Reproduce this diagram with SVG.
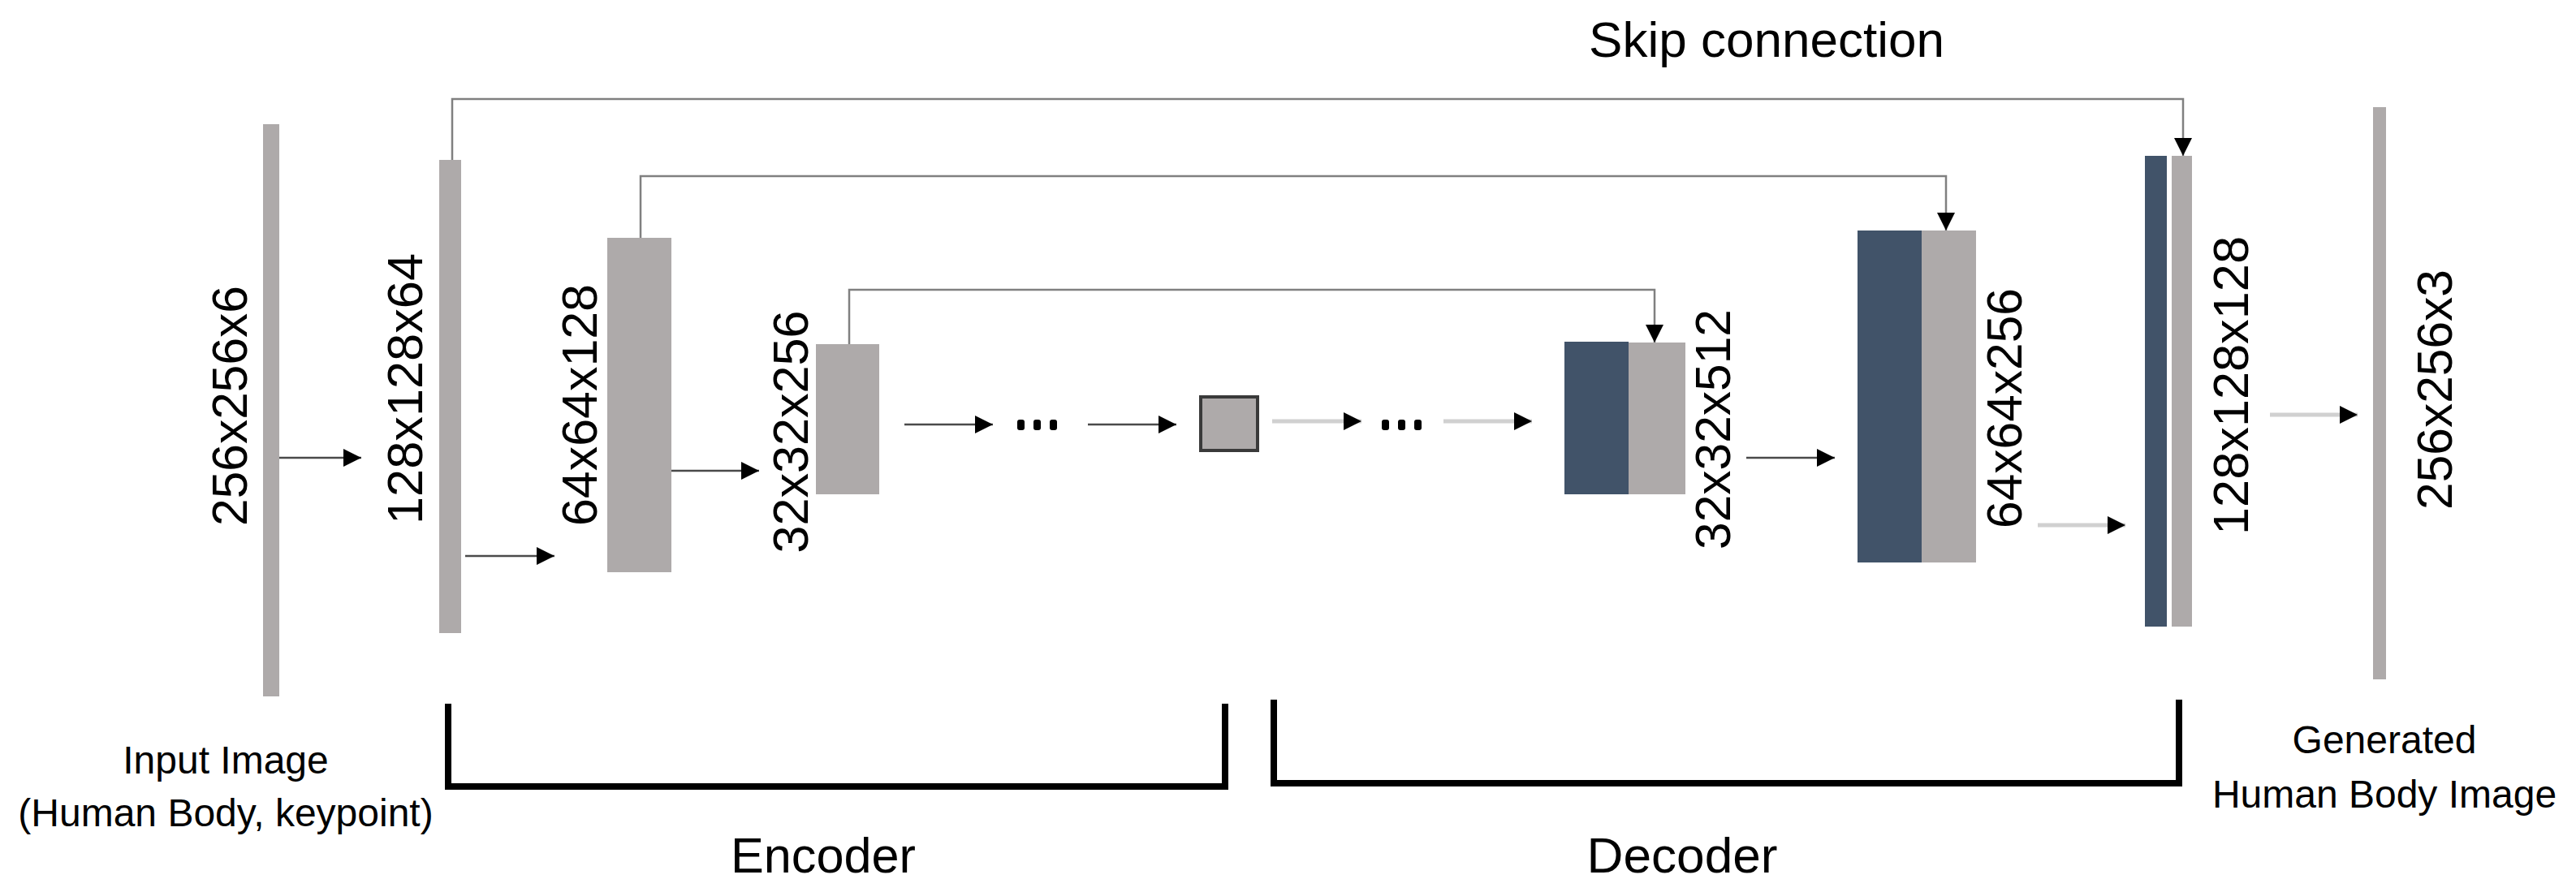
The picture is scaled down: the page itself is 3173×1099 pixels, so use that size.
<svg xmlns="http://www.w3.org/2000/svg" width="3173" height="1099" viewBox="0 0 3173 1099">
<style>
.g{fill:#AEAAAA}
.d{fill:#415369}
.lbl{font-family:"Liberation Sans",Arial,sans-serif;font-size:61px;fill:#000}
.cap{font-family:"Liberation Sans",Arial,sans-serif;font-size:62px;fill:#000;text-anchor:middle}
.sm{font-family:"Liberation Sans",Arial,sans-serif;font-size:48px;fill:#000;text-anchor:middle}
.skip{fill:none;stroke:#808080;stroke-width:2.5}
.fd{fill:none;stroke:#4a4a4a;stroke-width:2.5}
.fl{fill:none;stroke:#d0d0d0;stroke-width:5}
.br{fill:none;stroke:#000;stroke-width:8}
.dot{fill:#000}
</style>
<defs>
<marker id="ah" markerUnits="userSpaceOnUse" markerWidth="22" markerHeight="22" refX="22" refY="11" orient="auto">
<path d="M0,0 L22,11 L0,22 z" fill="#000"/>
</marker>
</defs>
<rect width="3173" height="1099" fill="#fff"/>

<g id="connectors">
<path class="skip" d="M557,197 V122 H2689 V192" marker-end="url(#ah)"/>
<path class="skip" d="M789,293 V217 H2397 V284" marker-end="url(#ah)"/>
<path class="skip" d="M1046,424 V357 H2038 V422" marker-end="url(#ah)"/>
<path class="fd" d="M335,564 H445" marker-end="url(#ah)"/>
<path class="fd" d="M573,685 H683" marker-end="url(#ah)"/>
<path class="fd" d="M827,580 H935" marker-end="url(#ah)"/>
<path class="fd" d="M1114,523 H1223" marker-end="url(#ah)"/>
<path class="fd" d="M1340,523 H1449" marker-end="url(#ah)"/>
<path class="fl" d="M1567,519 H1677" marker-end="url(#ah)"/>
<path class="fl" d="M1778,519 H1887" marker-end="url(#ah)"/>
<path class="fd" d="M2151,564 H2260" marker-end="url(#ah)"/>
<path class="fl" d="M2510,647 H2618" marker-end="url(#ah)"/>
<path class="fl" d="M2796,511 H2904" marker-end="url(#ah)"/>
<rect class="dot" x="1253" y="517" width="9" height="13" rx="3"/>
<rect class="dot" x="1273" y="517" width="9" height="13" rx="3"/>
<rect class="dot" x="1293" y="517" width="9" height="13" rx="3"/>
<rect class="dot" x="1702" y="517" width="9" height="13" rx="3"/>
<rect class="dot" x="1722" y="517" width="9" height="13" rx="3"/>
<rect class="dot" x="1742" y="517" width="9" height="13" rx="3"/>
</g>

<g id="input">
<rect class="g" x="324" y="153" width="20" height="705"/>
<text class="lbl" text-anchor="middle" textLength="296" lengthAdjust="spacingAndGlyphs" transform="translate(304,500) rotate(-90)">256x256x6</text>
<text class="sm" x="278" y="953">Input Image</text>
<text class="sm" x="278" y="1018">(Human Body, keypoint)</text>
</g>

<g id="enc1">
<rect class="g" x="541" y="197" width="27" height="583"/>
<text class="lbl" text-anchor="middle" textLength="334" lengthAdjust="spacingAndGlyphs" transform="translate(520,479) rotate(-90)">128x128x64</text>
</g>

<g id="enc2">
<rect class="g" x="748" y="293" width="79" height="412"/>
<text class="lbl" text-anchor="middle" textLength="298" lengthAdjust="spacingAndGlyphs" transform="translate(735,499) rotate(-90)">64x64x128</text>
</g>

<g id="enc3">
<rect class="g" x="1005" y="424" width="78" height="185"/>
<text class="lbl" text-anchor="middle" textLength="299" lengthAdjust="spacingAndGlyphs" transform="translate(995,532) rotate(-90)">32x32x256</text>
</g>

<g id="bottleneck">
<rect x="1479" y="489" width="70" height="66" fill="#AEAAAA" stroke="#3a3a3a" stroke-width="4"/>
</g>

<g id="dec1">
<rect class="d" x="1927" y="421" width="79" height="188"/>
<rect class="g" x="2006" y="422" width="70" height="187"/>
<text class="lbl" text-anchor="middle" textLength="296" lengthAdjust="spacingAndGlyphs" transform="translate(2131,529) rotate(-90)">32x32x512</text>
</g>

<g id="dec2">
<rect class="d" x="2288" y="284" width="79" height="409"/>
<rect class="g" x="2367" y="284" width="67" height="409"/>
<text class="lbl" text-anchor="middle" textLength="296" lengthAdjust="spacingAndGlyphs" transform="translate(2490,503) rotate(-90)">64x64x256</text>
</g>

<g id="dec3">
<rect class="d" x="2642" y="192" width="27" height="580"/>
<rect class="g" x="2675" y="192" width="25" height="580"/>
<text class="lbl" text-anchor="middle" textLength="368" lengthAdjust="spacingAndGlyphs" transform="translate(2769,475) rotate(-90)">128x128x128</text>
</g>

<g id="output">
<rect class="g" x="2923" y="132" width="16" height="705"/>
<text class="lbl" text-anchor="middle" textLength="296" lengthAdjust="spacingAndGlyphs" transform="translate(3020,480) rotate(-90)">256x256x3</text>
<text class="sm" x="2937" y="928">Generated</text>
<text class="sm" x="2937" y="995">Human Body Image</text>
</g>

<g id="skip-label">
<text class="cap" x="2176" y="70" textLength="438" lengthAdjust="spacingAndGlyphs">Skip connection</text>
</g>

<g id="encoder-bracket">
<path class="br" d="M552,867 V969 H1509 V867"/>
<text class="cap" x="1014" y="1075" textLength="228" lengthAdjust="spacingAndGlyphs">Encoder</text>
</g>

<g id="decoder-bracket">
<path class="br" d="M1569,862 V965 H2684 V862"/>
<text class="cap" x="2072" y="1075" textLength="235" lengthAdjust="spacingAndGlyphs">Decoder</text>
</g>
</svg>
